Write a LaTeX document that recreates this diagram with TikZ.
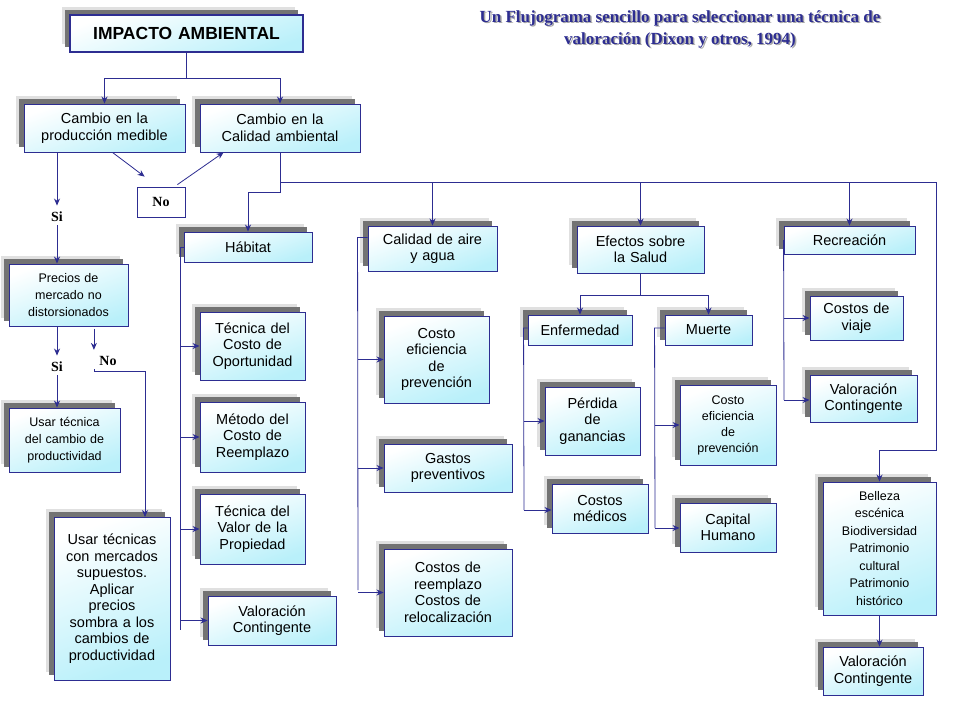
\documentclass[tikz,border=0pt]{standalone}
\usepackage{fontspec}
\setmainfont{Liberation Sans}
\newfontfamily\serifb{Liberation Serif}
\usetikzlibrary{arrows.meta,calc}
\definecolor{nv}{RGB}{45,45,145}
\definecolor{cy}{RGB}{185,240,250}
\tikzset{
 bxs/.style={draw=nv,line width=0.9pt,shading=axis,top color=white,bottom color=cy,shading angle=20,align=center,inner sep=1pt,font=\fontsize{14.5}{16.5}\selectfont},
 arr/.style={draw=nv,line width=0.8pt,-{Stealth[length=7pt,width=6pt]}},
 ln/.style={draw=nv,line width=0.8pt},
 lbl/.style={font=\serifb\bfseries\fontsize{14}{16}\selectfont},
}
\newcommand\bx[7][]{%
 \fill[black!12] ({#3-8},{#4-8}) rectangle ({#5-8},{#6-8});
 \fill[black!55] ({#3-5},{#4-5}) rectangle ({#5-5},{#6-5});
 \node[bxs,minimum width={(#5-#3)*1pt},minimum height={(#6-#4)*1pt},text width={(#5-#3-8)*1pt},#1] (#2) at ({(#3+#5)/2},{(#4+#6)/2}) {#7};}
\begin{document}
\begin{tikzpicture}[x=1pt,y=-1pt]
\useasboundingbox (0,0) rectangle (960,720);
\fill[white] (0,0) rectangle (960,720);
% title
\node[font=\serifb\bfseries\fontsize{17}{22}\selectfont,text=black!35,align=center] at (681.5,30.5) {Un Flujograma sencillo para seleccionar una técnica de\\valoración (Dixon y otros, 1994)};
\node[font=\serifb\bfseries\fontsize{17}{22}\selectfont,text=nv,align=center] (title) at (680,29) {Un Flujograma sencillo para seleccionar una técnica de\\valoración (Dixon y otros, 1994)};
% boxes
\bx[line width=2.5pt,font=\bfseries\fontsize{17.5}{20}\selectfont]{imp}{70}{15}{303}{52}{IMPACTO AMBIENTAL}
\bx{prod}{24}{104}{185}{152}{Cambio en la\\producción medible}
\bx{cal}{200}{104}{360}{152}{Cambio en la\\Calidad ambiental}
\node[draw=nv,line width=0.8pt,fill=white,minimum width=48pt,minimum height=30pt,lbl] (no1) at (161,202) {No};
\node[lbl] (si1) at (57,217) {Si};
\node[lbl] (si2) at (57,367) {Si};
\node[lbl] (no2) at (108,361) {No};
\bx{hab}{184}{232}{312}{262}{Hábitat}
\bx{aire}{368}{226}{497}{271}{Calidad de aire\\y agua}
\bx{efe}{577}{226}{704}{273}{Efectos sobre\\la Salud}
\bx{rec}{784}{226}{915}{254}{Recreación}
\bx[font=\fontsize{12.5}{17}\selectfont]{prec}{9}{264}{128}{326}{Precios de\\mercado no\\distorsionados}
\bx[font=\fontsize{12.5}{17}\selectfont]{usa1}{9}{408}{120}{472}{Usar técnica\\del cambio de\\productividad}
\bx{usa2}{54}{517}{170}{680}{Usar técnicas\\con mercados\\supuestos.\\Aplicar\\precios\\sombra a los\\cambios de\\productividad}
\bx{opo}{200}{312}{305}{380}{Técnica del\\Costo de\\Oportunidad}
\bx{met}{200}{402}{305}{472}{Método del\\Costo de\\Reemplazo}
\bx{val}{200}{494}{305}{564}{Técnica del\\Valor de la\\Propiedad}
\bx{vc1}{208}{596}{336}{645}{Valoración\\Contingente}
\bx{cep1}{384}{316}{489}{403}{Costo\\eficiencia\\de\\prevención}
\bx{gas}{384}{444}{512}{492}{Gastos\\preventivos}
\bx{cre}{384}{549}{512}{636}{Costos de\\reemplazo\\Costos de\\relocalización}
\bx{enf}{528}{315}{632}{345}{Enfermedad}
\bx{mue}{665}{315}{752}{345}{Muerte}
\bx{per}{545}{387}{640}{455}{Pérdida\\de\\ganancias}
\bx{med}{552}{484}{648}{533}{Costos\\médicos}
\bx[font=\fontsize{12.5}{16}\selectfont]{cep2}{680}{385}{776}{465}{Costo\\eficiencia\\de\\prevención}
\bx{cap}{680}{503}{776}{552}{Capital\\Humano}
\bx{via}{810}{296}{903}{340}{Costos de\\viaje}
\bx{vc2}{810}{375}{917}{422}{Valoración\\Contingente}
\bx[font=\fontsize{12.5}{17.5}\selectfont]{bel}{823}{482}{936}{615}{Belleza\\escénica\\Biodiversidad\\Patrimonio\\cultural\\Patrimonio\\histórico}
\bx{vc3}{823}{647}{923}{695}{Valoración\\Contingente}
% connectors
\draw[ln] (imp.south) -- ++(0,25) coordinate (j1);
\draw[arr] (j1) -| (prod.north);
\draw[arr] (j1) -| (cal.north);
\draw[arr] (prod.south -| si1) -- ($(si1.north)+(0,-3)$);
\draw[arr] (si1.south) -- (si1.south |- prec.north);
\draw[arr] ($(prod.south)+(8,0)$) -- ($(no1.north west)+(8,-10)$);
\draw[arr] ($(no1.north east)+(-8,-2)$) -- ($(cal.south west)+(24,0)$);
\draw[arr] (prec.south -| si2) -- ($(si2.north)+(0,-3)$);
\draw[arr] (si2.south) -- (si2.south |- usa1.north);
\draw[arr] ($(no2.north west)+(-2,-24)$) -- ($(no2.north west)+(-2,-3)$);
\coordinate (nr) at (145,517);
\draw[arr] ($(no2.south west)+(-2,0)$) -- ++(0,2) -| (nr);
\draw[arr] (cal.south) |- ++(0,40) -| (hab.north);
\coordinate (bus) at (280,182);
\draw[arr] (bus) -| (aire.north);
\draw[arr] (bus) -| (efe.north);
\draw[arr] (bus) -| (rec.north);
\coordinate (rt) at (936,450);
\draw[arr] (bus) -| (rt) -| (bel.north);
% habitat
\coordinate (hl) at (180,630);
\draw[ln] (hab.west) -- (hab.west -| hl) -- (hl);
\foreach \n in {opo,met,val,vc1} \draw[arr] (\n.west -| hl) -- (\n.west);
% aire
\coordinate (al) at (358,590);
\draw[ln] ($(aire.west)+(0,-11)$) -- ++(-10,0) -- (al);
\foreach \n in {cep1,gas,cre} \draw[arr] (\n.west -| al) -- (\n.west);
% efectos
\draw[ln] (efe.south) -- ++(0,22) coordinate (j2);
\draw[arr] (j2) -| (enf.north);
\draw[arr] (j2) -| (mue.north);
\coordinate (el) at (524,510);
\draw[ln] ($(enf.west)+(0,-2)$) -- ++(-4,0) -- (el);
\draw[arr] (per.west -| el) -- (per.west);
\draw[arr] (el) -- (el -| med.west);
\coordinate (ml) at (655,528);
\draw[ln] ($(mue.west)+(0,-2)$) -- ++(-10,0) -- (ml);
\draw[arr] (cep2.west -| ml) -- (cep2.west);
\draw[arr] (ml) -- (ml -| cap.west);
% recreacion
\coordinate (rl) at (784,400);
\draw[ln] (rec.west) -- (rl);
\draw[arr] (via.west -| rl) -- (via.west);
\draw[arr] (rl) -- (rl -| vc2.west);
\draw[arr] (bel.south) -- (bel.south |- vc3.north);
\end{tikzpicture}
\end{document}
